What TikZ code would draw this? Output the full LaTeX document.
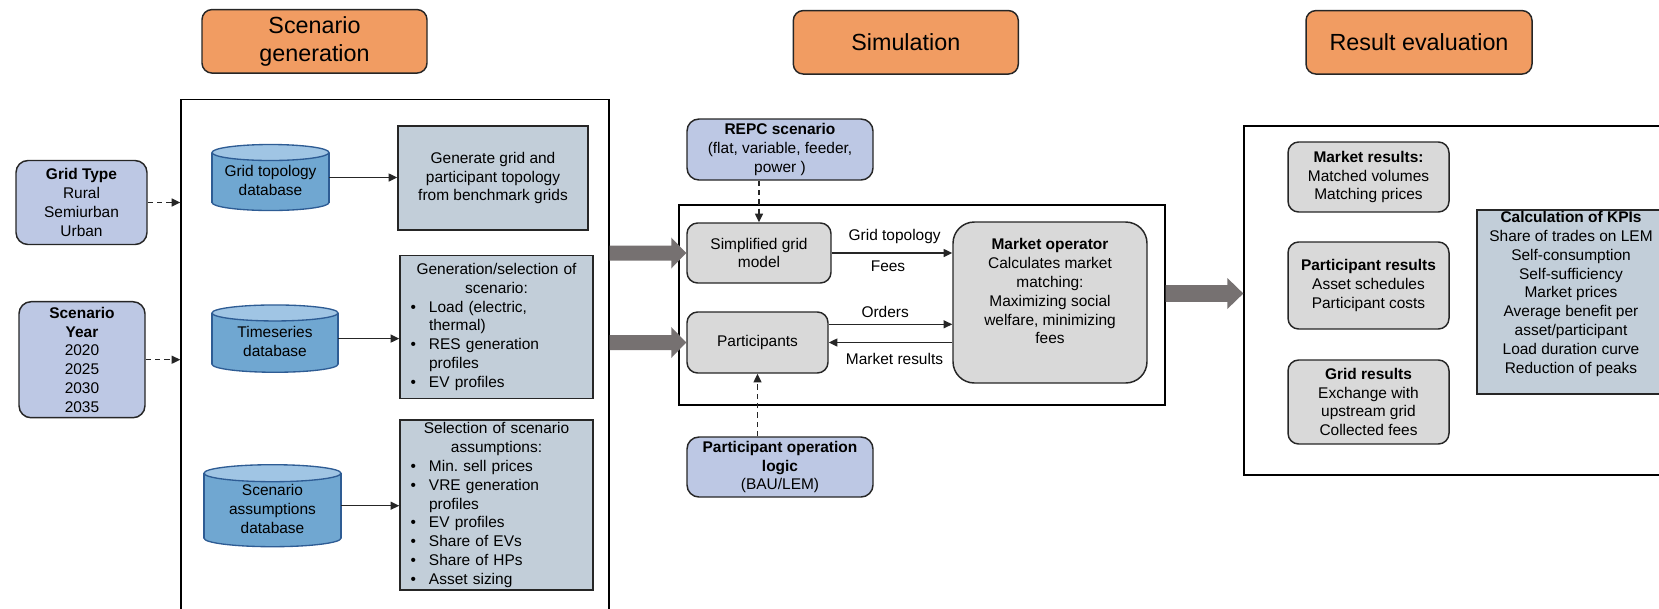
\documentclass[tikz,border=0pt]{standalone}
\usepackage{fontspec}
\setmainfont{Liberation Sans}
\usetikzlibrary{arrows.meta,calc}
\frenchspacing
\definecolor{orng}{RGB}{241,156,98}
\definecolor{lblue}{RGB}{189,200,228}
\definecolor{gblue}{RGB}{194,206,217}
\definecolor{lgray}{RGB}{217,217,217}
\definecolor{cylbody}{RGB}{112,167,209}
\definecolor{cyltop}{RGB}{160,197,228}
\definecolor{cylline}{RGB}{46,92,148}
\definecolor{arrgray}{RGB}{118,113,113}
\definecolor{edge}{RGB}{38,38,38}
\newcommand\bodyfont{\fontsize{11.6pt}{14.1pt}\selectfont}
\newcommand\titlefont{\fontsize{17.5pt}{21pt}\selectfont}
\newcommand\blt[1]{\par\hangindent=21.75pt\hangafter=1\noindent\hspace*{7.9pt}\makebox[13.85pt][l]{\textbullet}#1}
\newcommand\lines[2]{\raisebox{#1}[\height][\depth]{\begin{tabular}{@{}c@{}}#2\end{tabular}}}
\newcommand\dbcyl[7]{%
  \fill[cylbody] ({#2-#4/2},{#3-#5/2+#6}) rectangle ({#2+#4/2},{#3+#5/2-#6});
  \fill[cylbody] (#2,{#3+#5/2-#6}) ellipse [x radius=#4/2, y radius=#6];
  \begin{scope}
    \clip ({#2-#4/2-3},{#3+#5/2-#6}) rectangle ({#2+#4/2+3},{#3+#5/2+3});
    \draw[cylline, line width=1pt] (#2,{#3+#5/2-#6}) ellipse [x radius=#4/2, y radius=#6];
  \end{scope}
  \draw[cylline, line width=1pt] ({#2-#4/2},{#3-#5/2+#6}) -- ({#2-#4/2},{#3+#5/2-#6})
        ({#2+#4/2},{#3-#5/2+#6}) -- ({#2+#4/2},{#3+#5/2-#6});
  \filldraw[fill=cyltop, draw=cylline, line width=1pt] (#2,{#3-#5/2+#6}) ellipse [x radius=#4/2, y radius=#6];
  \node[inner sep=0pt, minimum width=#4*0.75pt, minimum height=#5*0.75pt, font=\bodyfont] (#1) at (#2,#3) {#7};
}
\newcommand\bigarr[5]{% from, to, half shaft, half head, head length
  \fill[arrgray] ($(#1)+(0,-#3)$) -- ($(#2)+(-#5,-#3)$) -- ($(#2)+(-#5,-#4)$) -- (#2)
     -- ($(#2)+(-#5,#4)$) -- ($(#2)+(-#5,#3)$) -- ($(#1)+(0,#3)$) -- cycle;
}
\begin{document}
\begin{tikzpicture}[x=0.75pt,y=-0.75pt,
  sz/.style 2 args={minimum width=#1*0.75pt, minimum height=#2*0.75pt},
  base/.style={draw=edge, line width=1.1pt, font=\bodyfont, align=center, inner sep=0pt},
  titlebox/.style={base, fill=orng, rounded corners=7.5pt, font=\titlefont},
  inbox/.style={base, fill=lblue, rounded corners=9pt},
  gbox/.style={base, fill=gblue},
  grbox/.style={base, fill=lgray, rounded corners=8pt},
  frame/.style={draw=black, line width=1pt, inner sep=0pt},
  conn/.style={draw=edge, line width=1pt, -{Triangle[length=6.5pt,width=6pt]}},
  dconn/.style={conn, dash pattern=on 4pt off 3pt},
  lbl/.style={font=\bodyfont, inner sep=0pt}]
\useasboundingbox (0,0) rectangle (1659,608);
\clip (0,0) rectangle (1659,608);

% titles
\node[titlebox, sz={225}{63.5}] (t1) at (314.5,41.3) {Scenario\\generation};
\node[titlebox, sz={225}{63.5}] (t2) at (905.8,42.3) {Simulation};
\node[titlebox, sz={226}{63.5}] (t3) at (1419,42.3) {Result evaluation};

% frames
\node[frame, sz={428}{525.5}] (scen) at (395,362.3) {};
\node[frame, sz={486}{200}] (sim) at (922,305) {};
\node[frame, sz={426}{349}] (res) at (1457,300.5) {};

% inputs
\node[inbox, sz={131}{84}] (gtype) at (81.5,202.5) {\textbf{Grid Type}\\Rural\\Semiurban\\Urban};
\node[inbox, sz={126}{116}] (syear) at (82,359.7) {\textbf{Scenario}\\\textbf{Year}\\2020\\2025\\2030\\2035};
\draw[dconn] (gtype.east) -- (gtype.east -| scen.west);
\draw[dconn] (syear.east) -- (syear.east -| scen.west);

% databases
\dbcyl{db1}{270.5}{177.5}{117}{66}{8}{\lines{-3.75pt}{Grid topology\\database}}
\dbcyl{db2}{275}{338.6}{126}{67.3}{8}{\lines{-3.3pt}{Timeseries\\database}}
\dbcyl{db3}{272.5}{505.7}{137}{82}{8.5}{\lines{-3.75pt}{Scenario\\assumptions\\database}}

% scenario boxes
\node[gbox, sz={190}{104}] (g1) at (493,178) {Generate grid and\\participant topology\\from benchmark grids};
\node[gbox, sz={193}{143}, text width=193*0.75pt, align=left] (g2) at (496.5,326.8)
 {{\centering Generation/selection of\\scenario:\par}\raggedright
  \blt{Load (electric,\newline thermal)}
  \blt{RES generation\newline profiles}
  \blt{EV profiles}\par};
\node[gbox, sz={193}{170}, text width=193*0.75pt, align=left] (g3) at (496.5,505)
 {{\centering Selection of scenario\\assumptions:\par}\raggedright
  \blt{Min. sell prices}
  \blt{VRE generation\newline profiles}
  \blt{EV profiles}
  \blt{Share of EVs}
  \blt{Share of HPs}
  \blt{Asset sizing}\par};
\draw[conn] (db1.east) -- (db1.east -| g1.west);
\draw[conn] (db2.east) -- (db2.east -| g2.west);
\draw[conn] (db3.east) -- (db3.east -| g3.west);

% simulation
\node[inbox, sz={186}{61}] (repc) at (780,149.5) {\textbf{REPC scenario}\\(flat, variable, feeder,\\power )};
\node[grbox, sz={144}{60}] (simp) at (759,253) {Simplified grid\\model};
\node[grbox, sz={141}{61}] (parts) at (757.5,342.5) {Participants};
\node[grbox, sz={194}{161}, rounded corners=16pt] (mo) at (1050,302.5)
 {\lines{7.1pt}{\textbf{Market operator}\\Calculates market\\matching:\\Maximizing social\\welfare, minimizing\\fees}};
\node[inbox, sz={186}{60}] (logic) at (780,467) {\textbf{Participant operation}\\\textbf{logic}\\(BAU/LEM)};

\draw[dconn] (repc.south -| simp.north) -- (simp.north);
\draw[dconn] (logic.north -| parts.south) -- (parts.south);

\draw[conn] (simp.east) -- (simp.east -| mo.west)
  node[lbl, midway, yshift=12.2pt, xshift=2pt] {Grid topology}
  node[lbl, midway, yshift=-10.3pt, xshift=-3pt] {Fees};
\coordinate (ordS) at ($(parts.east)+(0,-18.2)$);
\draw[conn] (ordS) -- (ordS -| mo.west)
  node[lbl, midway, yshift=9.5pt, xshift=-4pt] {Orders};
\draw[conn] (parts.east -| mo.west) -- (parts.east)
  node[lbl, midway, yshift=-12.2pt, xshift=3pt] {Market results};

% big arrows
\coordinate (a1s) at (scen.east |- simp.west);
\coordinate (a2s) at (scen.east |- parts.west);
\bigarr{a1s}{simp.west}{7.5}{15.5}{15}
\bigarr{a2s}{parts.west}{7.5}{15.5}{15}
\coordinate (a3s) at ($(sim.east)+(0,-11.5)$);
\coordinate (a3e) at (a3s -| res.west);
\bigarr{a3s}{a3e}{8.3}{15.5}{16}

% results
\node[grbox, sz={161}{70}] (mres) at (1368.5,177) {\textbf{Market results:}\\Matched volumes\\Matching prices};
\node[grbox, sz={161}{87}] (pres) at (1368.5,285.5) {\textbf{Participant results}\\Asset schedules\\Participant costs};
\node[grbox, sz={161}{84}] (gres) at (1368.5,402) {\textbf{Grid results}\\Exchange with\\upstream grid\\Collected fees};
\node[gbox, sz={188}{184}] (kpi) at (1571,302)
 {\lines{5.9pt}{\textbf{Calculation of KPIs}\\Share of trades on LEM\\Self-consumption\\Self-sufficiency\\Market prices\\Average benefit per\\asset/participant\\Load duration curve\\Reduction of peaks}};
\end{tikzpicture}
\end{document}
